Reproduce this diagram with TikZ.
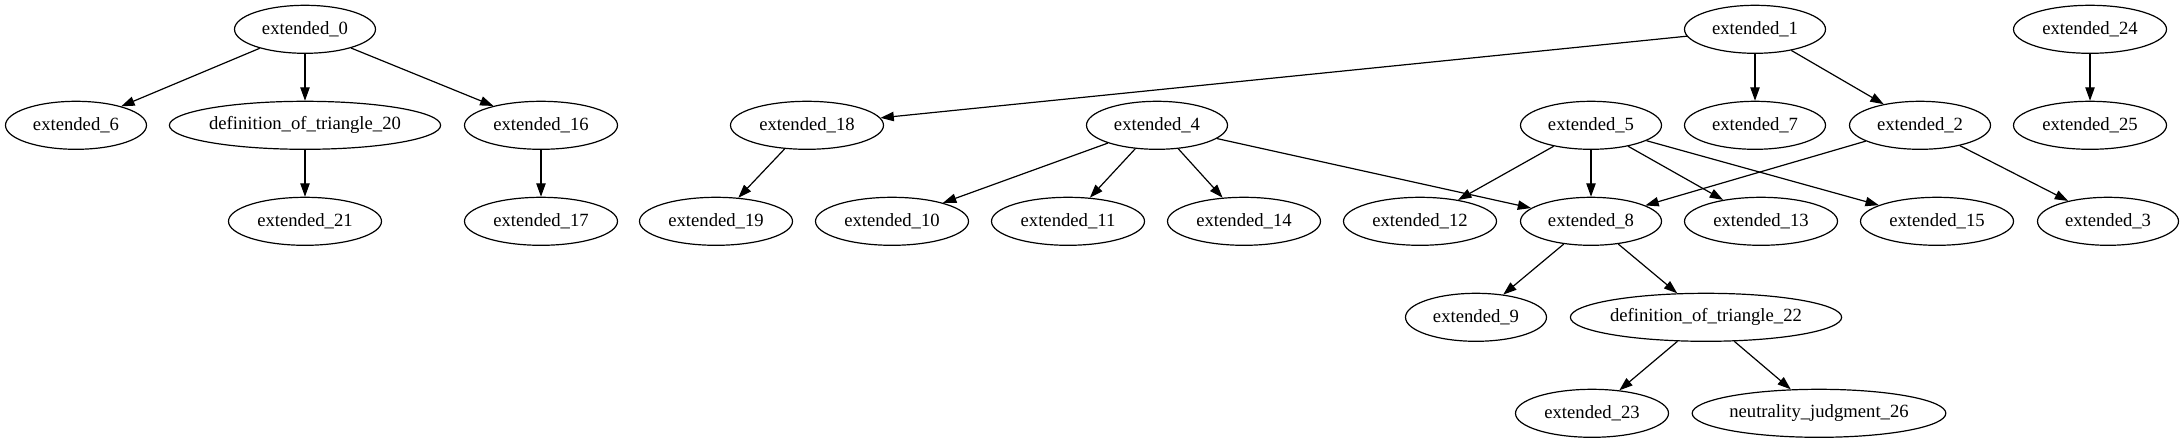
\documentclass[tikz,border=0pt]{standalone}
\usepackage{fontspec}
\setmainfont{Liberation Serif}
\usetikzlibrary{shapes.geometric,arrows.meta}
\tikzset{
  gnode/.style={ellipse, draw, line width=0.9pt, inner sep=0pt, minimum height=36pt, font=\fontsize{14pt}{16pt}\selectfont},
  w1/.style={gnode, minimum width=105.75pt},
  w2/.style={gnode, minimum width=114.75pt},
  w3/.style={gnode, minimum width=202.5pt},
  w4/.style={gnode, minimum width=190pt},
  edge/.style={draw, line width=0.9pt, -{Triangle[length=10pt,width=7pt]}}
}
\begin{document}
\begin{tikzpicture}[x=0.75pt,y=-0.75pt]
\useasboundingbox (0,0) rectangle (2184,443);
% rank 0
\node[w1] (e0) at (305,29.3) {extended\_0};
\node[w1] (e1) at (1755,29.3) {extended\_1};
\node[w2] (e24) at (2090,29.3) {extended\_24};
% rank 1
\node[w1] (e6) at (76,125.3) {extended\_6};
\node[w3] (d20) at (305,125.3) {definition\_of\_triangle\_20};
\node[w2] (e16) at (541,125.3) {extended\_16};
\node[w2] (e18) at (807,125.3) {extended\_18};
\node[w1] (e4) at (1157,125.3) {extended\_4};
\node[w1] (e5) at (1591,125.3) {extended\_5};
\node[w1] (e7) at (1755,125.3) {extended\_7};
\node[w1] (e2) at (1920,125.3) {extended\_2};
\node[w2] (e25) at (2090,125.3) {extended\_25};
% rank 2
\node[w2] (e21) at (305,221.3) {extended\_21};
\node[w2] (e17) at (541,221.3) {extended\_17};
\node[w2] (e19) at (716,221.3) {extended\_19};
\node[w2] (e10) at (892,221.3) {extended\_10};
\node[w2] (e11) at (1068,221.3) {extended\_11};
\node[w2] (e14) at (1244,221.3) {extended\_14};
\node[w2] (e12) at (1420,221.3) {extended\_12};
\node[w1] (e8) at (1591,221.3) {extended\_8};
\node[w2] (e13) at (1761,221.3) {extended\_13};
\node[w2] (e15) at (1937,221.3) {extended\_15};
\node[w1] (e3) at (2108,221.3) {extended\_3};
% rank 3
\node[w1] (e9) at (1476,317.3) {extended\_9};
\node[w3] (d22) at (1706,317.3) {definition\_of\_triangle\_22};
% rank 4
\node[w2] (e23) at (1592,413.3) {extended\_23};
\node[w4] (n26) at (1819,413.3) {neutrality\_judgment\_26};
% edges
\draw[edge] (e0) -- (e6);
\draw[edge] (e0) -- (d20);
\draw[edge] (e0) -- (e16);
\draw[edge] (d20) -- (e21);
\draw[edge] (e16) -- (e17);
\draw[edge] (e1) -- (e18);
\draw[edge] (e1) -- (e7);
\draw[edge] (e1) -- (e2);
\draw[edge] (e24) -- (e25);
\draw[edge] (e18) -- (e19);
\draw[edge] (e4) -- (e10);
\draw[edge] (e4) -- (e11);
\draw[edge] (e4) -- (e14);
\draw[edge] (e4) -- (e8);
\draw[edge] (e5) -- (e12);
\draw[edge] (e5) -- (e8);
\draw[edge] (e5) -- (e13);
\draw[edge] (e5) -- (e15);
\draw[edge] (e2) -- (e8);
\draw[edge] (e2) -- (e3);
\draw[edge] (e8) -- (e9);
\draw[edge] (e8) -- (d22);
\draw[edge] (d22) -- (e23);
\draw[edge] (d22) -- (n26);
\end{tikzpicture}
\end{document}
